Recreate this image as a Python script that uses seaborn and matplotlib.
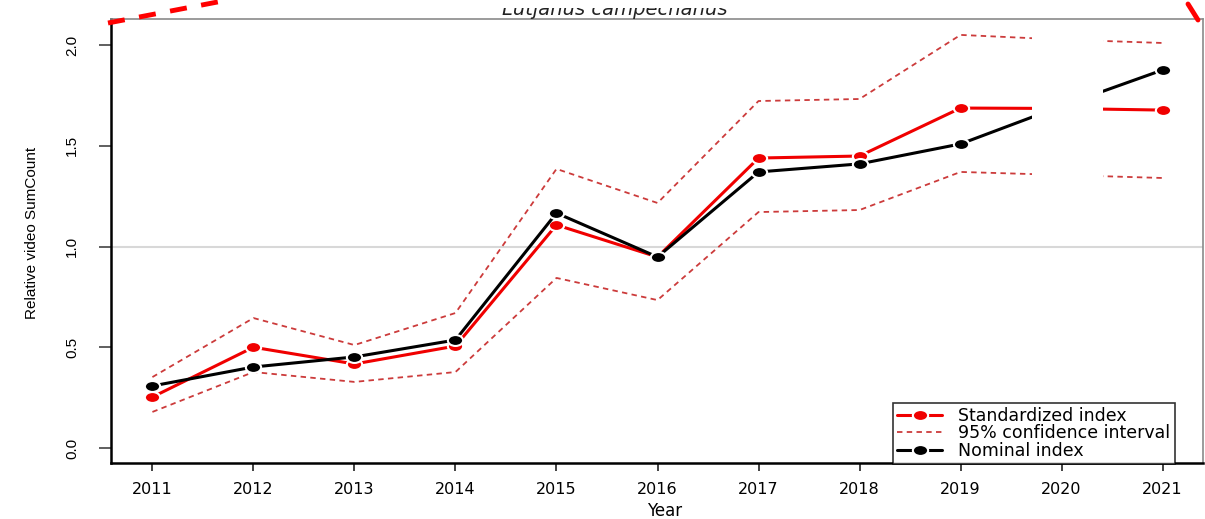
import numpy as np
import pandas as pd
import seaborn as sns
import matplotlib
matplotlib.use("Agg")
import matplotlib.pyplot as plt
from matplotlib.lines import Line2D
from matplotlib.path import Path
from matplotlib.patches import Rectangle

# values
years = [2011, 2012, 2013, 2014, 2015, 2016, 2017, 2018, 2019, 2020, 2021]
standardized = [0.253, 0.500, 0.417, 0.506, 1.107, 0.948, 1.439, 1.449, 1.687, 1.685, 1.677]
nominal = [0.308, 0.402, 0.452, 0.536, 1.166, 0.948, 1.370, 1.410, 1.509, 1.697, 1.876]
ci_upper = [0.352, 0.645, 0.511, 0.670, 1.385, 1.216, 1.722, 1.732, 2.050, 2.027, 2.010]
ci_lower = [0.179, 0.377, 0.328, 0.377, 0.844, 0.734, 1.171, 1.181, 1.370, 1.355, 1.340]
y_ticks = [0.0, 0.5, 1.0, 1.5, 2.0]

df = pd.DataFrame({"year": years, "std": standardized, "nom": nominal,
                   "up": ci_upper, "lo": ci_lower})

sns.set_style("white")
plt.rcParams["font.family"] = ["DejaVu Sans"]
plt.rcParams["text.color"] = "black"
plt.rcParams["axes.labelcolor"] = "black"
plt.rcParams["xtick.labelcolor"] = "black"
plt.rcParams["ytick.labelcolor"] = "black"

RED = "#f00000"
CI_RED = "#cc3b3b"
DASH = (0, (3, 2.4))

# slightly wide oval marker (the reference picture is stretched sideways)
circ = Path.unit_circle()
oval = Path(circ.vertices * np.array([1.4, 1.0]), circ.codes)

fig = plt.figure(figsize=(12.05, 5.19), dpi=100)
ax = fig.add_axes([111 / 1205, 56 / 519, 1092 / 1205, 444 / 519])

ax.axhline(1.0, color="#d8d8d8", lw=1.5, zorder=0)

sns.lineplot(data=df, x="year", y="up", ax=ax, color=CI_RED, lw=1.3, linestyle=DASH, errorbar=None)
sns.lineplot(data=df, x="year", y="lo", ax=ax, color=CI_RED, lw=1.3, linestyle=DASH, errorbar=None)
sns.lineplot(data=df, x="year", y="std", ax=ax, color=RED, lw=2.2, errorbar=None,
             marker=oval, markersize=11, markeredgecolor="white", markeredgewidth=1.5)
sns.lineplot(data=df, x="year", y="nom", ax=ax, color="black", lw=2.2, errorbar=None,
             marker=oval, markersize=11, markeredgecolor="white", markeredgewidth=1.5)

# white blotch covering the 2020 part of the picture
ax.add_patch(Rectangle((0.843, 0.52), 0.065, 0.455, transform=ax.transAxes,
                       facecolor="white", edgecolor="none", zorder=5))

ax.set_xlim(2010.59, 2021.4)
ax.set_ylim(-0.0744, 2.129)
ax.set_xticks(years)
ax.set_xticklabels([str(y) for y in years], fontsize=11.5)
ax.set_yticks(y_ticks)
ax.set_yticklabels([f"{v:.1f}" for v in y_ticks], rotation=90, va="center",
                   fontsize=11, family=["Liberation Sans", "DejaVu Sans"])
ax.tick_params(axis="y", direction="out", length=9, width=1.2, color="#444444", pad=14, left=True)
ax.tick_params(axis="x", direction="out", length=6, width=1.2, color="#222222", pad=8, bottom=True)

ax.set_xlabel("Year", fontsize=12)
ax.xaxis.set_label_coords(0.507, -0.088)
ax.set_ylabel("Relative video SumCount", fontsize=11, family=["Liberation Sans", "DejaVu Sans"])
ax.yaxis.set_label_coords(-0.066, 0.518)

for side in ["left", "bottom"]:
    ax.spines[side].set_color("black")
    ax.spines[side].set_linewidth(1.8)
for side in ["top", "right"]:
    ax.spines[side].set_color("#8a8a8a")
    ax.spines[side].set_linewidth(1.2)

handles = [
    Line2D([], [], color=RED, lw=2.2, marker=oval, markersize=11, markeredgecolor="white", markeredgewidth=1.5),
    Line2D([], [], color=CI_RED, lw=1.3, linestyle=DASH),
    Line2D([], [], color="black", lw=2.2, marker=oval, markersize=11, markeredgecolor="white", markeredgewidth=1.5),
]
labels = ["Standardized index", "95% confidence interval", "Nominal index"]
leg = ax.legend(handles, labels, loc="upper left", bbox_to_anchor=(893 / 1205, 1 - 403 / 519),
                bbox_transform=fig.transFigure, frameon=True, fancybox=False, fontsize=12.5,
                labelspacing=-0.05, handlelength=2.6, handletextpad=0.9, borderpad=0.25,
                borderaxespad=0)
leg.get_frame().set_edgecolor("black")
leg.get_frame().set_linewidth(1.2)
leg.set_zorder(10)

fig.text(615 / 1205, 1 - 15 / 519, "Lutjanus campechanus", style="italic",
         ha="center", va="baseline", fontsize=14, color="#222222")
# the top strip of the picture is blanked out, hiding the upper half of the title
fig.add_artist(Rectangle((300 / 1205, 1 - 8 / 519), 600 / 1205, 8 / 519, transform=fig.transFigure,
                         facecolor="white", edgecolor="none", zorder=20))

# red dashed highlight drawn over the picture
fig.add_artist(Line2D([108 / 1205, 228 / 1205], [1 - 23 / 519, 1.0], transform=fig.transFigure,
                      color="red", lw=3.5, linestyle=(0, (3.5, 3)), zorder=30))
fig.add_artist(Line2D([1188 / 1205, 1198 / 1205], [1 - 4 / 519, 1 - 20 / 519], transform=fig.transFigure,
                      color="red", lw=3.5, zorder=30))

fig.savefig("out.png", dpi=100)
